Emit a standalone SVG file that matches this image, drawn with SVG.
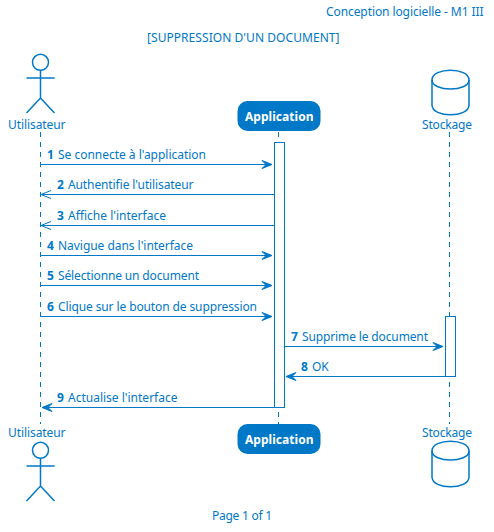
<svg xmlns="http://www.w3.org/2000/svg" width="494" height="532" viewBox="0 0 494 532">
<style>
text{font-family:"Noto Sans","Open Sans",sans-serif;font-size:12px;fill:#0078c8}
.b{font-weight:700}
.ln{stroke:#0078c8;stroke-width:1;fill:none}
.ls{stroke:#0078c8;stroke-width:1;stroke-dasharray:5 5;fill:none}
.sh{stroke:#0078c8;stroke-width:1.5;fill:#fff}
.ah{fill:#0078c8;stroke:#0078c8;stroke-width:1}
.op{fill:none;stroke:#0078c8;stroke-width:1}
.act{fill:#fff;stroke:#0078c8;stroke-width:1}
</style>
<rect width="494" height="532" fill="#fff"/>
<text id="header" x="326" y="16" textLength="157.500">Conception logicielle - M1 III</text>
<text id="title" x="147" y="42" textLength="192.500">[SUPPRESSION D'UN DOCUMENT]</text>
<g id="lifelines">
<path class="ls" d="M40.500 132V424"/><path class="ls" d="M278.500 132V424"/><path class="ls" d="M449.500 132V424"/>
</g>
<g id="activations">
<rect class="act" x="274.500" y="142.500" width="10" height="265"/>
<rect class="act" x="445.500" y="316.500" width="10" height="60"/>
</g>
<g id="connectors">
<g id="m1"><path class="ln" d="M40.500 164.500H272"/><path class="ah" d="M262 160.500L272 164.500L262 168.500L266 164.500Z"/><text class="b" x="47" y="159">1</text><text x="58" y="159" textLength="148">Se connecte à l'application</text></g>
<g id="m2"><path class="ln" d="M42 194.500H274.500"/><path class="op" d="M51 190.500L41 194.500L51 198.500"/><text class="b" x="57" y="189">2</text><text x="68" y="189" textLength="125.500">Authentifie l'utilisateur</text></g>
<g id="m3"><path class="ln" d="M42 225.500H274.500"/><path class="op" d="M51 221.500L41 225.500L51 229.500"/><text class="b" x="57" y="220">3</text><text x="68" y="220" textLength="98">Affiche l'interface</text></g>
<g id="m4"><path class="ln" d="M40.500 255.500H272"/><path class="ah" d="M262 251.500L272 255.500L262 259.500L266 255.500Z"/><text class="b" x="47" y="250">4</text><text x="58" y="250" textLength="135">Navigue dans l'interface</text></g>
<g id="m5"><path class="ln" d="M40.500 285.500H272"/><path class="ah" d="M262 281.500L272 285.500L262 289.500L266 285.500Z"/><text class="b" x="47" y="280">5</text><text x="58" y="280" textLength="141">Sélectionne un document</text></g>
<g id="m6"><path class="ln" d="M40.500 316.500H272"/><path class="ah" d="M262 312.500L272 316.500L262 320.500L266 316.500Z"/><text class="b" x="47" y="311">6</text><text x="58" y="311" textLength="199">Clique sur le bouton de suppression</text></g>
<g id="m7"><path class="ln" d="M284.500 346.500H443"/><path class="ah" d="M433 342.500L443 346.500L433 350.500L437 346.500Z"/><text class="b" x="291" y="341">7</text><text x="302" y="341" textLength="126">Supprime le document</text></g>
<g id="m8"><path class="ln" d="M287 376.500H445.500"/><path class="ah" d="M296 372.500L286 376.500L296 380.500L292 376.500Z"/><text class="b" x="301" y="371">8</text><text x="312" y="371">OK</text></g>
<g id="m9"><path class="ln" d="M42 407.500H274.500"/><path class="ah" d="M52 403.500L42 407.500L52 411.500L48 407.500Z"/><text class="b" x="57" y="402">9</text><text x="68" y="402" textLength="109.500">Actualise l'interface</text></g>
</g>
<g id="actor-top"><circle class="sh" cx="40.500" cy="62.300" r="8"/><path class="sh" style="fill:none" d="M40.500 70V98M26.500 78H54.500M26.500 113L40.500 98L54.500 113"/><text x="8" y="129" textLength="57.500">Utilisateur</text></g>
<g id="actor-bottom"><circle class="sh" cx="40.500" cy="450.300" r="8"/><path class="sh" style="fill:none" d="M40.500 458V486M26.500 466H54.500M26.500 501L40.500 486L54.500 501"/><text x="8" y="437" textLength="57.500">Utilisateur</text></g>
<g id="app-top"><rect x="237.500" y="101" width="83" height="30" rx="10" fill="#0078c8"/><text class="b" x="245" y="121" textLength="68.500" style="fill:#fff">Application</text></g>
<g id="app-bottom"><rect x="237.500" y="424" width="83" height="30" rx="10" fill="#0078c8"/><text class="b" x="245" y="444" textLength="68.500" style="fill:#fff">Application</text></g>
<g id="db-top"><path class="sh" d="M432 80C432 67 469 67 469 80V105C469 118 432 118 432 105Z"/><path class="sh" style="fill:none" d="M432 80C432 92 469 92 469 80"/><text x="422" y="129" textLength="50">Stockage</text></g>
<g id="db-bottom"><path class="sh" d="M432 451C432 438 469 438 469 451V477C469 490 432 490 432 477Z"/><path class="sh" style="fill:none" d="M432 451C432 463 469 463 469 451"/><text x="422" y="437" textLength="50">Stockage</text></g>
<text id="footer" x="212" y="520" textLength="60">Page 1 of 1</text>
</svg>
